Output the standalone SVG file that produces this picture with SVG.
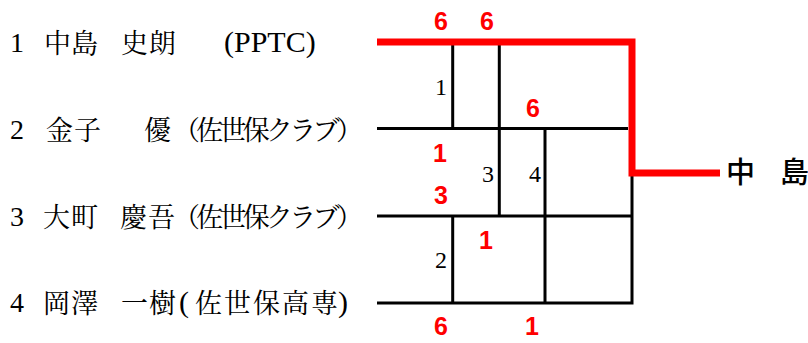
<svg xmlns="http://www.w3.org/2000/svg" width="808" height="343" viewBox="0 0 808 343">
<style>
.name{font-family:'Liberation Serif','Noto Serif CJK JP','Noto Sans CJK JP',serif;font-size:27px;fill:#000}
.lat{font-family:'Liberation Serif',serif;font-size:30px;fill:#000}
.num{font-family:'Liberation Serif',serif;font-size:28px;fill:#000}
.lbl{font-family:'Liberation Serif',serif;font-size:24px;fill:#000;text-anchor:end}
.score{font-family:'Liberation Sans',Arial,sans-serif;font-weight:bold;font-size:25px;fill:#ff0000;text-anchor:middle}
.win{font-family:'Noto Sans CJK JP',sans-serif;font-weight:500;font-size:29px;fill:#000}
.blk{stroke:#000;stroke-width:3;fill:none}
.red{stroke:#ff0000;stroke-width:7;fill:none;stroke-linejoin:miter}
</style>
<rect width="808" height="343" fill="#fff"/>
<g id="player1">
<text class="num" x="10" y="52">1</text>
<text class="name" x="44" y="53" textLength="54">中島</text>
<text class="name" x="121" y="53" textLength="55">史朗</text>
<text class="lat" x="224" y="52">(PPTC)</text>
</g>
<g id="player2">
<text class="num" x="10" y="139">2</text>
<text class="name" x="46" y="140" textLength="55">金子</text>
<text class="name" x="144" y="140">優</text>
<text class="name" x="173" y="140" textLength="190">（佐世保クラブ）</text>
</g>
<g id="player3">
<text class="num" x="10" y="226">3</text>
<text class="name" x="43" y="227" textLength="55">大町</text>
<text class="name" x="120" y="227" textLength="55">慶吾</text>
<text class="name" x="173" y="227" textLength="190">（佐世保クラブ）</text>
</g>
<g id="player4">
<text class="num" x="10" y="312">4</text>
<text class="name" x="43" y="313" textLength="55">岡澤</text>
<text class="name" x="121" y="313" textLength="55">一樹</text>
<text class="lat" x="179" y="312">(</text>
<text class="name" x="195" y="313" textLength="143">佐世保高専</text>
<text class="lat" x="338" y="312">)</text>
</g>
<g id="connectors">
<path class="blk" d="M377,128.5H628 M377,216H633 M377,303H633 M632,173V304.5 M452.7,42V128.5 M499.3,42V216 M545,128.5V303 M452.7,216V303"/>
<path class="red" d="M377,42H632V173H720"/>
</g>
<g id="match-labels">
<text class="lbl" x="447" y="95">1</text>
<text class="lbl" x="494" y="182">3</text>
<text class="lbl" x="541" y="182">4</text>
<text class="lbl" x="447" y="268">2</text>
</g>
<g id="scores">
<text class="score" x="441" y="30">6</text>
<text class="score" x="487" y="30">6</text>
<text class="score" x="533" y="117">6</text>
<text class="score" x="440" y="162">1</text>
<text class="score" x="441" y="204">3</text>
<text class="score" x="486" y="249">1</text>
<text class="score" x="441" y="335">6</text>
<text class="score" x="532" y="335">1</text>
</g>
<g id="winner">
<text class="win" x="726" y="183">中</text>
<text class="win" x="780" y="183">島</text>
</g>
</svg>
